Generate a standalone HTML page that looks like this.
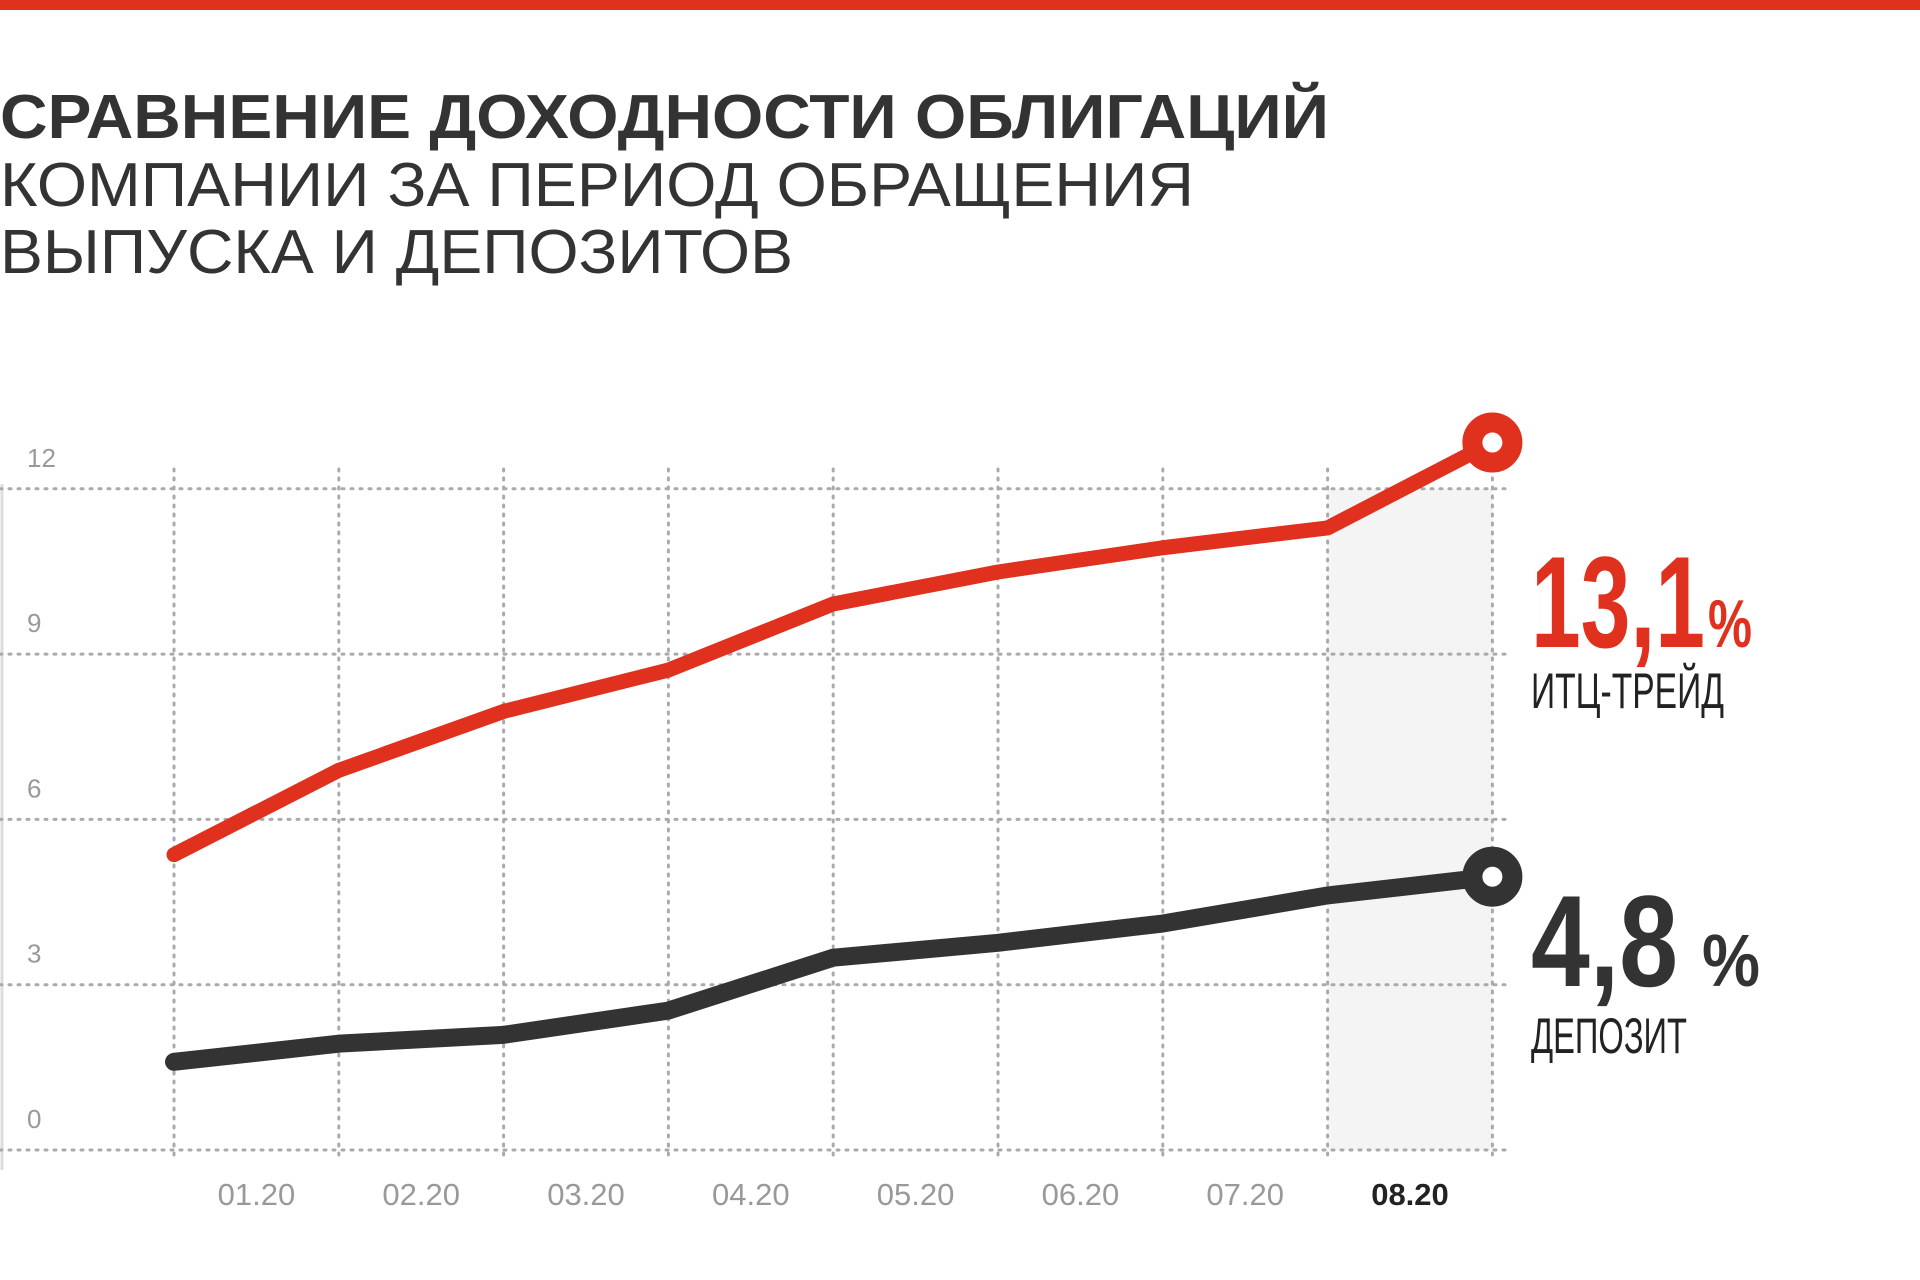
<!DOCTYPE html>
<html><head><meta charset="utf-8"><style>
html,body{margin:0;padding:0;background:#fff;width:1920px;height:1280px;overflow:hidden}
svg{display:block;font-family:"Liberation Sans","DejaVu Sans",sans-serif}
</style></head><body>
<svg id="chart" width="1920" height="1280" viewBox="0 0 1920 1280" xmlns="http://www.w3.org/2000/svg">
<rect x="0" y="0" width="1920" height="10" fill="#e0301e"/>
<g fill="#333">
<text x="0" y="138" font-size="62" font-weight="bold" textLength="1329" lengthAdjust="spacingAndGlyphs">СРАВНЕНИЕ ДОХОДНОСТИ ОБЛИГАЦИЙ</text>
<text x="0" y="206" font-size="62" textLength="1194" lengthAdjust="spacingAndGlyphs">КОМПАНИИ ЗА ПЕРИОД ОБРАЩЕНИЯ</text>
<text x="0" y="273" font-size="62" textLength="793" lengthAdjust="spacingAndGlyphs">ВЫПУСКА И ДЕПОЗИТОВ</text>
</g>
<g id="plot"></g>
<g>
<text x="1531" y="647" font-size="130" font-weight="bold" fill="#e0301e" textLength="174" lengthAdjust="spacingAndGlyphs">13,1</text>
<text x="1708" y="647" font-size="68" font-weight="bold" fill="#e0301e" textLength="44" lengthAdjust="spacingAndGlyphs">%</text>
<text x="1531" y="708" font-size="50" fill="#222" textLength="193" lengthAdjust="spacingAndGlyphs">ИТЦ-ТРЕЙД</text>
<text x="1531" y="986" font-size="130" font-weight="bold" fill="#333" textLength="147" lengthAdjust="spacingAndGlyphs">4,8</text>
<text x="1702" y="986" font-size="74" font-weight="bold" fill="#333" textLength="58" lengthAdjust="spacingAndGlyphs">%</text>
<text x="1531" y="1053" font-size="50" fill="#222" textLength="156" lengthAdjust="spacingAndGlyphs">ДЕПОЗИТ</text>
</g>
</svg>
<script>
const categories = ["01.20","02.20","03.20","04.20","05.20","06.20","07.20","08.20"];
const yTicks = [0,3,6,9,12];
const itcValues = [5.36,6.89,7.96,8.71,9.91,10.49,10.93,11.29,12.84];
const depositValues = [1.6,1.93,2.09,2.53,3.49,3.76,4.11,4.62,4.96];

const NS="http://www.w3.org/2000/svg";
const X0=174, STEP=164.8, Y0=1150, UNIT=55.1;
function xPos(i){return X0+i*STEP;}
function yPos(v){return Y0-v*UNIT;}
const plot=document.getElementById('plot');
function mk(tag,attrs){const e=document.createElementNS(NS,tag);for(const k in attrs)e.setAttribute(k,attrs[k]);plot.appendChild(e);return e;}
const nCells=categories.length;
// highlight column
let hl=mk('rect',{x:xPos(nCells-1),y:yPos(yTicks[yTicks.length-1]),width:STEP,height:yPos(0)-yPos(yTicks[yTicks.length-1]),fill:'#f4f4f4'});


let ax=mk('line',{x1:2,x2:2,y1:484,y2:1170,stroke:'#ddd','stroke-width':3});


yTicks.forEach(t=>{
  const g=mk('line',{x1:0,x2:1512,y1:yPos(t),y2:yPos(t),stroke:'#aaa','stroke-width':3,'stroke-dasharray':'2 7','stroke-linecap':'round'});
  
  
  const l=mk('text',{x:27,y:yPos(t)-22,'font-size':26,fill:'#999'});
  l.textContent=t;
  
  
});
for(let i=0;i<=nCells;i++){
  const g=mk('line',{x1:xPos(i),x2:xPos(i),y1:469,y2:1157,stroke:'#aaa','stroke-width':3,'stroke-dasharray':'2 7','stroke-linecap':'round'});
  
  
}
categories.forEach((c,i)=>{
  const last=i===nCells-1;
  const t=mk('text',{x:xPos(i)+STEP/2,y:1205,'font-size':31,'text-anchor':'middle',fill:last?'#222':'#999','font-weight':last?'bold':'normal'});
  t.textContent=c;
  
  
});
function series(vals,color,w,name){
  const pts=vals.map((v,i)=>xPos(i)+','+yPos(v)).join(' ');
  const p=mk('polyline',{points:pts,fill:'none',stroke:color,'stroke-width':w,'stroke-linejoin':'round','stroke-linecap':'round'});
  
  
  const n=vals.length-1;
  const c=mk('circle',{cx:xPos(n),cy:yPos(vals[n]),r:20,fill:'#fff',stroke:color,'stroke-width':20});
  
  
}
series(itcValues,'#e0301e',15,'itc-trade');
series(depositValues,'#333333',18,'deposit');
</script>
</body></html>
